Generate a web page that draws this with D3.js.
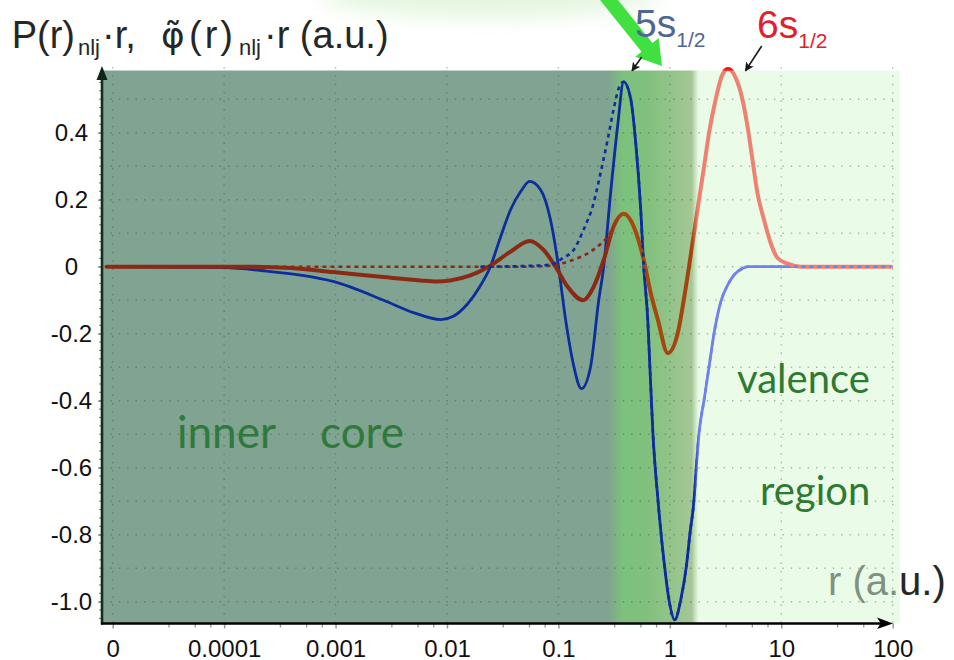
<!DOCTYPE html>
<html>
<head>
<meta charset="utf-8">
<script src="https://cdn.jsdelivr.net/npm/d3@7"></script>
<style>
  html, body { margin: 0; padding: 0; background: #fff; }
  svg { display: block; }
</style>
</head>
<body>
<svg id="chart" width="954" height="660"></svg>
<script>
// r (a.u.) and r·P(r) of the all-electron 5s1/2 orbital
const r5s = [8.8e-6, 1e-4, 2.4e-4, 5e-4, 9.5e-4, 2.7e-3, 5.0e-3, 8.8e-3, 0.0114, 0.0152, 0.0195, 0.0245,
  0.030, 0.0372, 0.046, 0.0551, 0.0692, 0.0849, 0.0982, 0.116, 0.134, 0.161, 0.194, 0.230, 0.255,
  0.294, 0.340, 0.385, 0.446, 0.494, 0.548, 0.583, 0.634, 0.662, 0.705, 0.782, 0.897, 0.982, 1.107,
  1.253, 1.406, 1.517, 1.648, 1.730, 1.828, 2.03, 2.25, 2.52, 2.9, 3.3, 3.76, 4.5, 5.0, 97];
const p5s = [0, -0.003, -0.013, -0.026, -0.044, -0.10, -0.137, -0.158, -0.148, -0.112, -0.062, 0,
  0.085, 0.17, 0.225, 0.255, 0.23, 0.14, 0.02, -0.158, -0.28, -0.364, -0.30, -0.10, 0,
  0.22, 0.42, 0.552, 0.50, 0.37, 0.17, 0, -0.16, -0.298, -0.497, -0.696, -0.895, -0.994, -1.054,
  -0.994, -0.895, -0.795, -0.696, -0.596, -0.497, -0.397, -0.298, -0.19, -0.099, -0.055, -0.025, -0.005, 0, 0];

// r (a.u.) and r·P(r) of the all-electron 6s1/2 orbital
const r6s = [8.8e-6, 1.6e-4, 4e-4, 9.5e-4, 2.7e-3, 5.8e-3, 8.0e-3, 0.0107, 0.0162, 0.0236, 0.0372, 0.0551, 0.0736,
  0.0942, 0.121, 0.166, 0.207, 0.255, 0.313, 0.385, 0.474, 0.583, 0.675, 0.780, 0.959, 1.178, 1.334,
  1.486, 1.648, 1.828, 2.03, 2.25, 2.58, 2.96, 3.33, 3.91, 4.48, 4.97, 5.51, 6.11, 7.0, 8.05, 9.25,
  11.4, 15, 97];
const p6s = [0, 0, -0.004, -0.016, -0.031, -0.041, -0.044, -0.041, -0.026, 0, 0.045, 0.077, 0.05,
  0, -0.06, -0.10, -0.06, 0.02, 0.12, 0.158, 0.12, 0.02, -0.08, -0.158, -0.258, -0.198, -0.099,
  0, 0.1, 0.2, 0.3, 0.4, 0.5, 0.573, 0.59, 0.563, 0.5, 0.42, 0.32, 0.22, 0.14, 0.07, 0.026,
  0.009, 0, 0];

// nodeless pseudo-orbitals φ̃(r)·r up to their matching radii
const r5sPseudo = [0.02, 0.05, 0.0849, 0.111, 0.137, 0.168, 0.207, 0.239, 0.277, 0.313, 0.35, 0.385];
const p5sPseudo = [0, 0.002, 0.006, 0.027, 0.05, 0.11, 0.19, 0.28, 0.38, 0.47, 0.535, 0.552];
const r6sPseudo = [8.8e-6, 0.05, 0.0849, 0.121, 0.194, 0.239, 0.277, 0.313];
const p6sPseudo = [0, 0, 0.003, 0.015, 0.045, 0.068, 0.09, 0.12];

// axis ticks
const xTickValues = [1e-5, 1e-4, 1e-3, 1e-2, 0.1, 1, 10, 100];
const xTickLabels = ["0", "0.0001", "0.001", "0.01", "0.1", "1", "10", "100"];
const xMinorSteps = [3.2, 5.5, 7.6];
const yTickValues = [0.4, 0.2, 0, -0.2, -0.4, -0.6, -0.8, -1.0];
const yTickLabels = ["0.4", "0.2", "0", "-0.2", "-0.4", "-0.6", "-0.8", "-1.0"];

// region borders (a.u.)
const coreEdge = 0.28, valenceEdge = 1.78;

const svg = d3.select("#chart");
const defs = svg.append("defs");
const plot = { left: 102, top: 70.5, right: 900, bottom: 623.5 };

const x = d3.scaleLog().domain([1e-5, 100]).range([112.7, 892.7]);
const y = d3.scaleLinear().domain([0, 0.4]).range([266.7, 132.7]);
const xc = x(coreEdge), xv = x(valenceEdge);

// soft glow at the top
const glow = defs.append("filter").attr("id", "glow").attr("x", "-50%").attr("y", "-50%").attr("width", "200%").attr("height", "200%");
glow.append("feGaussianBlur").attr("stdDeviation", 10);
svg.append("ellipse").attr("cx", 490).attr("cy", -6).attr("rx", 170).attr("ry", 24)
  .attr("fill", "#d9f3d2").attr("opacity", 0.7).attr("filter", "url(#glow)");

// region shading: inner core -> transition -> valence region
function userGradient(id, stops, x1, x2) {
  const g = defs.append("linearGradient").attr("id", id)
    .attr("gradientUnits", "userSpaceOnUse").attr("x1", x1).attr("x2", x2).attr("y1", 0).attr("y2", 0);
  stops.forEach(([px, c]) => g.append("stop")
    .attr("offset", Math.max(0, Math.min(1, (px - x1) / (x2 - x1)))).attr("stop-color", c));
}
userGradient("bgGrad", [
  [xc, "#80a392"], [xc + 14, "#7cc17b"], [xc + 38, "#80c07d"],
  [xv - 6, "#a4c795"], [xv - 3, "#c4e0bb"], [xv + 1, "#eafce8"], [plot.right, "#eafce8"]
], plot.left, plot.right);
svg.append("rect").attr("x", plot.left).attr("y", plot.top)
  .attr("width", plot.right - plot.left).attr("height", plot.bottom - plot.top)
  .attr("fill", "url(#bgGrad)");

// axis title at the right end, partly under the valence shading
const rTitle = svg.append("g");
defs.append("clipPath").attr("id", "inRegion").append("rect")
  .attr("x", 0).attr("y", 0).attr("width", plot.right).attr("height", 660);
defs.append("clipPath").attr("id", "outRegion").append("rect")
  .attr("x", plot.right).attr("y", 0).attr("width", 100).attr("height", 660);
[["inRegion", "#7f9181"], ["outRegion", "#262626"]].forEach(([clip, col]) => {
  rTitle.append("text").attr("x", 828).attr("y", 595)
    .attr("clip-path", `url(#${clip})`)
    .style("font-family", "'Liberation Sans', Arial, sans-serif").style("font-size", "40px")
    .attr("fill", col).text("r (a.u.)");
});

// dotted grid
const grid = svg.append("g").attr("stroke", "#3c4640").attr("stroke-opacity", 0.38)
  .attr("stroke-width", 1.4).attr("stroke-dasharray", "1.4,7");
grid.selectAll("line.v").data(xTickValues).join("line")
  .attr("x1", d => x(d)).attr("x2", d => x(d)).attr("y1", 67).attr("y2", plot.bottom);
grid.selectAll("line.h").data(d3.range(-10, 6).map(i => i / 10)).join("line")
  .attr("x1", plot.left).attr("x2", plot.right).attr("y1", d => y(d)).attr("y2", d => y(d));

// curves
const line = d3.line().x(d => x(d[0])).y(d => y(d[1])).curve(d3.curveMonotoneX);
userGradient("redStroke", [[xc - 2, "#8b2a14"], [xc + 14, "#a8490f"], [xv - 6, "#a3440e"], [xv, "#ee8272"]], plot.left, plot.right);
userGradient("blueStroke", [[xv - 4, "#0c2d9c"], [xv + 1, "#6f80f0"]], plot.left, plot.right);

const solid5 = d3.zip(r5s, p5s);
const solid6 = d3.zip(r6s, p6s);
const match5 = r5sPseudo[r5sPseudo.length - 1];
const pseudo5 = d3.zip(r5sPseudo, p5sPseudo).concat(solid5.filter(d => d[0] > match5));
const pseudo6 = d3.zip(r6sPseudo, p6sPseudo);

const curves = svg.append("g").attr("fill", "none").attr("stroke-linejoin", "round").attr("stroke-linecap", "round");
curves.append("path").datum(solid5).attr("d", line).attr("stroke", "url(#blueStroke)").attr("stroke-width", 2.8);
curves.append("path").datum(solid6).attr("d", line).attr("stroke", "url(#redStroke)").attr("stroke-width", 4);
curves.append("path").datum(pseudo6).attr("d", line).attr("stroke", "url(#redStroke)")
  .attr("stroke-width", 2.6).attr("stroke-dasharray", "4,4").attr("stroke-linecap", "butt");
curves.append("path").datum(pseudo5).attr("d", line).attr("stroke", "url(#blueStroke)")
  .attr("stroke-width", 2.6).attr("stroke-dasharray", "4,4").attr("stroke-linecap", "butt");

// the part of the 6s curve above the shaded frame
defs.append("clipPath").attr("id", "aboveFrame").append("rect")
  .attr("x", 0).attr("y", 0).attr("width", 954).attr("height", plot.top);
curves.append("path").datum(solid6).attr("d", line).attr("stroke", "#ff1010")
  .attr("stroke-width", 4).attr("clip-path", "url(#aboveFrame)");

// axes
const tickFont = "'Liberation Sans', Arial, sans-serif";
const xAxis = svg.append("g").attr("transform", `translate(0,${plot.bottom})`)
  .call(d3.axisBottom(x).tickValues(xTickValues).tickFormat((d, i) => xTickLabels[i]).tickSize(5));
xAxis.select(".domain").remove();
xAxis.selectAll(".tick line").attr("stroke", "#999").attr("stroke-width", 1.5);
xAxis.selectAll(".tick text").attr("y", 33).attr("dy", 0)
  .style("font-family", tickFont).style("font-size", "24px").attr("fill", "#111");
const xMinor = [];
xTickValues.slice(0, -1).forEach(d => xMinorSteps.forEach(m => xMinor.push(d * m)));
xAxis.selectAll("line.minor").data(xMinor).join("line").attr("class", "minor")
  .attr("x1", d => x(d)).attr("x2", d => x(d)).attr("y1", 0).attr("y2", 4)
  .attr("stroke", "#999").attr("stroke-width", 1.3);

const yAxis = svg.append("g").attr("transform", `translate(${plot.left},0)`)
  .call(d3.axisLeft(y).tickValues(yTickValues).tickFormat((d, i) => yTickLabels[i]).tickSize(4));
yAxis.select(".domain").remove();
yAxis.selectAll(".tick line").attr("stroke", "#888").attr("stroke-width", 1.3);
yAxis.selectAll(".tick text").attr("x", -30.5).attr("dy", 7.5).attr("text-anchor", "middle")
  .style("font-family", tickFont).style("font-size", "24px").attr("fill", "#111");
yAxis.selectAll("line.minor").data(d3.range(-42, 24).map(i => i * 0.025)).join("line").attr("class", "minor")
  .attr("x1", -3).attr("x2", 0).attr("y1", d => y(d)).attr("y2", d => y(d))
  .attr("stroke", "#888").attr("stroke-width", 1.2);

// axis lines with arrow heads
svg.append("line").attr("x1", plot.left).attr("x2", plot.left).attr("y1", plot.bottom + 1).attr("y2", 76)
  .attr("stroke", "#12301f").attr("stroke-width", 2.6);
svg.append("path").attr("d", `M${plot.left - 5.5},80 L${plot.left},66 L${plot.left + 5.5},80 Z`).attr("fill", "#0f2618");
svg.append("line").attr("x1", plot.left - 1).attr("x2", 884).attr("y1", plot.bottom).attr("y2", plot.bottom)
  .attr("stroke", "#000").attr("stroke-width", 2.6);
svg.append("path").attr("d", `M877,${plot.bottom - 6} L893,${plot.bottom} L877,${plot.bottom + 5.5} L881,${plot.bottom} Z`).attr("fill", "#000");

// region names
const labelFont = "Lato, 'Open Sans', sans-serif";
svg.append("text").attr("x", 177).attr("y", 448).attr("fill", "#2e7a3a")
  .style("font-family", labelFont).style("font-size", "44px").attr("xml:space", "preserve").text("inner    core");
svg.append("text").attr("x", 737).attr("y", 393).attr("fill", "#2f7a32")
  .style("font-family", labelFont).style("font-size", "40px").text("valence");
svg.append("text").attr("x", 760).attr("y", 505).attr("fill", "#2f7a32")
  .style("font-family", labelFont).style("font-size", "40px").text("region");

// y-axis title: P(r)nlj·r,  φ̃(r)nlj·r (a.u.)
const titleFont = "'Liberation Sans', Arial, sans-serif";
const title = svg.append("text").attr("y", 48).attr("fill", "#262626")
  .style("font-family", titleFont).style("font-size", "38px");
[
  { t: "P(r)", x: 11.7, dy: 0 },
  { t: "nlj", x: 78, dy: 7, fs: 22 },
  { t: "·r,", x: 102, dy: -7 },
  { t: "φ\u0303", x: 161, dy: 0, ff: "'DejaVu Sans'", fs: 36 },
  { t: "(r)", x: 189, dy: 0, ls: 3 },
  { t: "nlj", x: 239, dy: 7, fs: 22 },
  { t: "·r (a.u.)", x: 264, dy: -7 }
].forEach(s => {
  const ts = title.append("tspan").attr("x", s.x).attr("dy", s.dy).text(s.t);
  if (s.fs) ts.style("font-size", s.fs + "px");
  if (s.ls) ts.style("letter-spacing", s.ls + "px");
  if (s.ff) ts.style("font-family", s.ff);
});

// green pointer to the matching radius
const tip = [662, 66], dir = [0.626, 0.780], nrm = [0.780, -0.626];
const P = (t, s) => [tip[0] - dir[0] * t + nrm[0] * s, tip[1] - dir[1] * t + nrm[1] * s];
const arrowPts = [P(120, 7), P(24, 7), P(24, 15), P(0, 0), P(24, -15), P(24, -7), P(120, -7)];
svg.append("path").attr("d", "M" + arrowPts.map(p => p.join(",")).join("L") + "Z").attr("fill", "#40e040");

// orbital labels
const orbit = svg.append("g").style("font-family", titleFont);
const lbl5 = orbit.append("text").attr("x", 635).attr("y", 37).attr("fill", "#4f6596");
lbl5.append("tspan").style("font-size", "39px").text("5s");
lbl5.append("tspan").attr("dy", 10).style("font-size", "21px").text("1/2");
const lbl6 = orbit.append("text").attr("x", 757).attr("y", 37.5).attr("fill", "#e3202a");
lbl6.append("tspan").style("font-size", "39px").text("6s");
lbl6.append("tspan").attr("dy", 10).style("font-size", "21px").text("1/2");

// small pointer arrows from labels to the peaks
defs.append("marker").attr("id", "head").attr("viewBox", "0 0 10 10").attr("refX", 9).attr("refY", 5)
  .attr("markerWidth", 9).attr("markerHeight", 9).attr("markerUnits", "userSpaceOnUse").attr("orient", "auto")
  .append("path").attr("d", "M0,0 L10,5 L0,10 L2.5,5 Z").attr("fill", "#1a1a1a");
[[641.7, 57, 632, 70.7], [761.7, 46, 745.5, 70.7]].forEach(([x1, y1, x2, y2]) => {
  svg.append("line").attr("x1", x1).attr("y1", y1).attr("x2", x2).attr("y2", y2)
    .attr("stroke", "#1a1a1a").attr("stroke-width", 1.6).attr("marker-end", "url(#head)");
});
</script>
</body>
</html>
